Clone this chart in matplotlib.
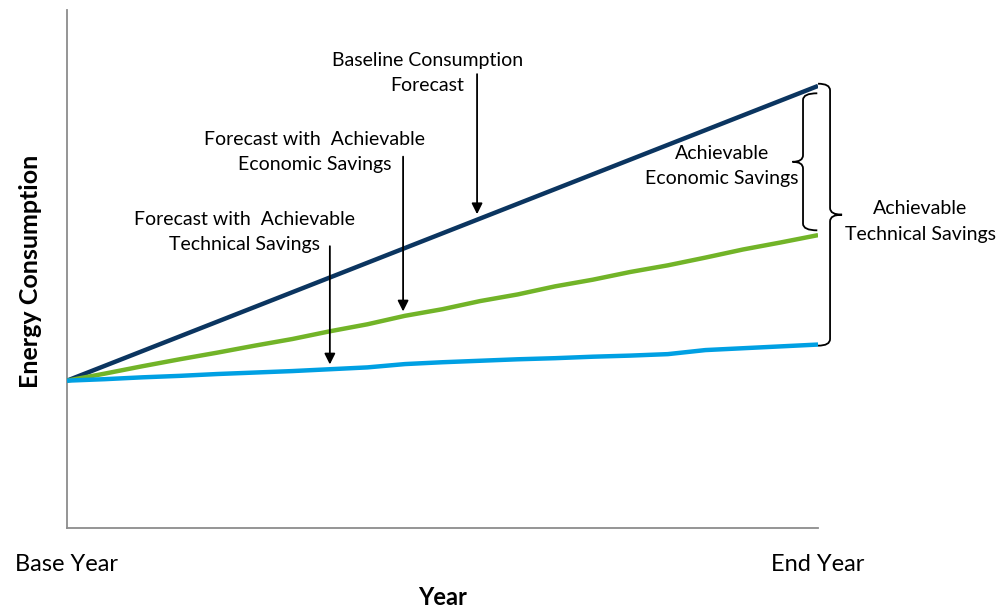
import numpy as np
import matplotlib.pyplot as plt
from matplotlib.path import Path
from matplotlib.patches import PathPatch
import matplotlib.transforms as mtransforms

plt.rcParams['font.family'] = ['Lato', 'DejaVu Sans']

# Forecast horizon: 20 annual steps from base year to end year
periods = np.arange(21)
tick_positions = [0, 20]
tick_labels = ["Base Year", "End Year"]

baseline = [40, 44, 48, 52, 56, 60, 64, 68, 72, 76, 80,
            84, 88, 92, 96, 100, 104, 108, 112, 116, 120]
economic = [40, 41.9, 43.9, 45.8, 47.6, 49.5, 51.3, 53.4, 55.3, 57.6, 59.4,
            61.6, 63.4, 65.6, 67.4, 69.5, 71.3, 73.4, 75.6, 77.5, 79.5]
technical = [40, 40.4, 40.9, 41.3, 41.8, 42.2, 42.6, 43.1, 43.6, 44.5, 45.0,
             45.4, 45.8, 46.1, 46.5, 46.8, 47.2, 48.3, 48.8, 49.3, 49.8]

navy = "#0B3560"
green = "#72B428"
blue = "#00A0E3"

fig = plt.figure(figsize=(9.97, 6.11), dpi=100)
ax = fig.add_axes([0.0672, 0.1358, 0.7533, 0.8478])

ax.plot(periods, baseline, color=navy, lw=3.2, solid_capstyle='butt', zorder=3)
ax.plot(periods, economic, color=green, lw=3.2, solid_capstyle='butt', zorder=3)
ax.plot(periods, technical, color=blue, lw=3.2, solid_capstyle='butt', zorder=3)

ax.set_xlim(0, 20)
ax.set_ylim(0, 140.6)
for side in ("top", "right"):
    ax.spines[side].set_visible(False)
for side in ("left", "bottom"):
    ax.spines[side].set_color("#8C8C8C")
    ax.spines[side].set_linewidth(1.3)
ax.set_yticks([])
ax.set_xticks(tick_positions)
ax.set_xticklabels(tick_labels, fontsize=17)
ax.tick_params(axis='x', length=0, pad=19)

ax.set_xlabel("Year", fontsize=17, fontweight='bold')
ax.xaxis.set_label_coords(0.5, -0.135)
ax.xaxis.label.set_verticalalignment('center')
ax.set_ylabel("Energy Consumption", fontsize=18, fontweight='bold')
ax.yaxis.set_label_coords(-0.049, 0.496)
ax.yaxis.label.set_verticalalignment('center')

txt = dict(fontsize=14, ha='center', va='center', multialignment='center',
           linespacing=1.6)
arrow = dict(arrowstyle='-|>', color='black', lw=1.3, mutation_scale=16,
             shrinkA=0, shrinkB=0)

# Callouts pointing at each forecast line
ax.text(9.59, 123.5, "Baseline Consumption\nForecast", **txt)
xa = 10.92
ax.annotate("", xy=(xa, np.interp(xa, periods, baseline) + 1.5), xytext=(xa, 123.2),
            arrowprops=arrow)

ax.text(6.6, 102.0, "Forecast with  Achievable\nEconomic Savings", **txt)
xa = 8.95
ax.annotate("", xy=(xa, np.interp(xa, periods, economic) + 1.3), xytext=(xa, 100.8),
            arrowprops=arrow)

ax.text(4.74, 80.3, "Forecast with  Achievable\nTechnical Savings", **txt)
xa = 7.0
ax.annotate("", xy=(xa, np.interp(xa, periods, technical) + 1.3), xytext=(xa, 76.5),
            arrowprops=arrow)

ax.text(17.44, 98.3, "Achievable\nEconomic Savings", **txt)
ax.text(22.72, 83.2, "Achievable\nTechnical Savings", **txt)


def brace(ax, x_end, x_mid, x_tip, y_top, y_bot, r=1.8, lw=1.3):
    """Curly brace along y, ends curling toward x_end, point toward x_tip."""
    trans = mtransforms.blended_transform_factory(ax.transAxes, ax.transData)
    y_mid = (y_top + y_bot) / 2
    verts = [
        (x_end, y_top), (x_mid, y_top), (x_mid, y_top - r),
        (x_mid, y_mid + r), (x_mid, y_mid), (x_tip, y_mid),
        (x_mid, y_mid), (x_mid, y_mid - r),
        (x_mid, y_bot + r), (x_mid, y_bot), (x_end, y_bot),
    ]
    codes = [Path.MOVETO, Path.CURVE3, Path.CURVE3,
             Path.LINETO, Path.CURVE3, Path.CURVE3,
             Path.CURVE3, Path.CURVE3,
             Path.LINETO, Path.CURVE3, Path.CURVE3]
    patch = PathPatch(Path(verts, codes), transform=trans, fill=False,
                      edgecolor='black', lw=lw, clip_on=False)
    ax.add_patch(patch)


brace(ax, 0.999, 0.980, 0.966, baseline[-1] - 2.0, economic[-1] + 1.3)
brace(ax, 1.0, 1.016, 1.032, baseline[-1] + 0.6, technical[-1] - 0.3)

fig.savefig("out.png", dpi=100)
